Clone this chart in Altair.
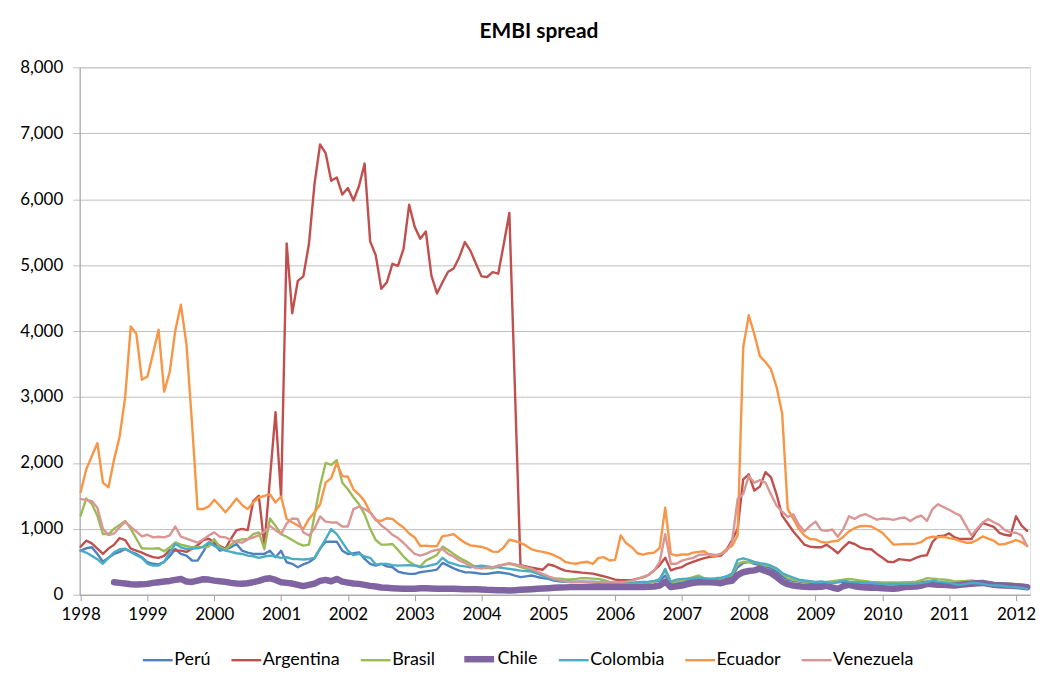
import altair as alt
import pandas as pd

countries = ["Perú", "Argentina", "Brasil", "Chile", "Colombia", "Ecuador", "Venezuela"]
colors = ["#4F81BD", "#C0504D", "#9BBB59", "#8064A2", "#4BACC6", "#F79646", "#DA9694"]
widths = [2.4, 2.4, 2.4, 6.5, 2.4, 2.4, 2.4]
start_year = 1998
year_ticks = list(range(1998, 2013))
value_ticks = list(range(0, 8001, 1000))

# monthly values, Jan 1998 .. Mar 2012 (one row per year)
peru = [
    669, 705, 720, 620, 500, 560, 619, 650, 694, 650, 619, 570,
    493, 470, 460, 500, 584, 694, 619, 594, 520, 518, 650, 795,
    770, 669, 690, 720, 770, 669, 640, 619, 619, 620, 669, 569,
    669, 493, 470, 418, 460, 493, 553, 700, 805, 805, 805, 669,
    619, 630, 644, 543, 470, 442, 468, 430, 418, 352, 330, 317,
    317, 342, 355, 367, 382, 483, 442, 400, 367, 342, 340, 330,
    317, 317, 330, 342, 330, 317, 290, 267, 280, 292, 270, 252,
    240, 216, 205, 195, 191, 191, 191, 190, 185, 180, 178, 176,
    176, 176, 176, 176, 176, 180, 190, 200, 216, 292, 176, 185,
    191, 210, 230, 252, 240, 216, 220, 235, 252, 280, 418, 480,
    500, 470, 450, 430, 400, 350, 280, 230, 210, 200, 190, 180,
    175, 170, 165, 180, 195, 190, 180, 170, 160, 155, 155, 160,
    165, 165, 160, 160, 165, 170, 175, 190, 200, 185, 170, 165,
    160, 155, 165, 170, 175, 180, 170, 160, 150, 145, 140, 135,
    130, 125, 120,
]
argentina = [
    730, 820, 780, 700, 620, 700, 760, 860, 830, 700, 670, 640,
    600, 570, 560, 590, 680, 670, 670, 650, 700, 750, 830, 850,
    800, 740, 700, 850, 980, 1000, 980, 1420, 1500, 750, 1760, 2770,
    1480, 5330, 4270, 4760, 4830, 5320, 6230, 6830, 6700, 6280, 6330, 6070,
    6170, 5980, 6200, 6540, 5360, 5150, 4640, 4740, 5020, 4990, 5250, 5915,
    5580, 5400, 5510, 4840, 4570, 4740, 4900, 4950, 5120, 5350, 5220, 5020,
    4830, 4820, 4895, 4870, 5320, 5790, None, 450, 430, 410, 395, 380,
    460, 440, 400, 367, 355, 345, 335, 328, 320, 300, 280, 255,
    230, 220, 220, 222, 245, 265, 300, 370, 450, 560, 370, 400,
    420, 470, 500, 530, 555, 575, 585, 593, 680, 830, 1000, 1750,
    1826, 1580, 1640, 1860, 1780, 1520, 1200, 1080, 960, 860, 760, 730,
    720, 720, 760, 700, 630, 720, 800, 770, 720, 695, 690, 620,
    560, 500, 495, 540, 530, 520, 560, 590, 600, 800, 890, 895,
    930, 870, 845, 845, 845, 980, 1090, 1060, 1030, 940, 910, 895,
    1190, 1050, 970,
]
brasil = [
    1200, 1460, 1380, 1200, 920, 920, 1000, 1060, 1120, 1000, 850, 705,
    700, 700, 705, 660, 720, 795, 760, 740, 720, 720, 720, 730,
    845, 720, 690, 760, 820, 840, 845, 920, 946, 694, 1157, 1045,
    920, 880, 830, 780, 745, 760, 1200, 1650, 2000, 1970, 2040, 1700,
    1600, 1480, 1373, 1220, 1000, 830, 760, 760, 770, 680, 580, 500,
    450, 430, 520, 560, 604, 730, 680, 620, 560, 518, 470, 418,
    405, 405, 403, 440, 453, 468, 450, 420, 395, 367, 330, 292,
    270, 252, 245, 235, 231, 240, 252, 250, 245, 241, 220, 195,
    190, 185, 176, 176, 176, 178, 180, 200, 241, 367, 180, 200,
    216, 240, 267, 292, 250, 216, 230, 241, 280, 300, 468, 500,
    495, 490, 470, 445, 430, 392, 320, 252, 225, 210, 201, 195,
    191, 190, 195, 205, 216, 230, 241, 230, 216, 205, 195, 191,
    188, 186, 186, 188, 190, 191, 200, 220, 252, 245, 235, 231,
    220, 201, 205, 210, 216, 205, 195, 186, 180, 176, 175, 170,
    160, 140, 120,
]
chile = [
    None, None, None, None, None, None, 191, 180, 170, 160, 155, 158,
    165, 180, 190, 200, 210, 225, 240, 200, 195, 215, 235, 230,
    215, 205, 195, 180, 170, 166, 175, 191, 210, 240, 251, 225,
    191, 180, 170, 150, 131, 150, 170, 210, 226, 205, 240, 200,
    185, 170, 165, 150, 135, 125, 110, 105, 100, 95, 90, 90,
    92, 100, 100, 95, 90, 90, 90, 90, 88, 85, 85, 85,
    80, 75, 72, 70, 68, 65, 70, 75, 80, 85, 90, 95,
    100, 105, 110, 112, 116, 116, 116, 116, 116, 116, 116, 116,
    116, 116, 116, 116, 116, 118, 120, 125, 140, 200, 116, 130,
    140, 160, 180, 191, 191, 191, 185, 176, 200, 211, 300, 342,
    360, 370, 395, 360, 330, 270, 200, 160, 140, 130, 120, 116,
    116, 120, 135, 110, 90, 130, 150, 130, 116, 110, 105, 105,
    100, 95, 90, 100, 116, 120, 125, 140, 166, 160, 150, 150,
    145, 140, 150, 160, 166, 175, 180, 165, 150, 145, 140, 135,
    131, 125, 115,
]
colombia = [
    669, 640, 590, 540, 470, 560, 644, 690, 700, 650, 600, 560,
    470, 443, 443, 500, 644, 770, 720, 694, 700, 705, 730, 795,
    740, 700, 669, 650, 630, 619, 594, 584, 560, 580, 594, 580,
    560, 569, 543, 540, 535, 543, 560, 700, 845, 996, 920, 795,
    669, 600, 620, 580, 560, 460, 468, 468, 450, 442, 445, 448,
    442, 418, 430, 450, 470, 560, 493, 470, 442, 430, 418, 430,
    442, 430, 418, 418, 405, 392, 380, 367, 360, 352, 320, 292,
    260, 230, 216, 205, 201, 200, 201, 200, 198, 196, 195, 192,
    190, 188, 185, 185, 190, 195, 200, 210, 230, 392, 200, 230,
    241, 245, 250, 260, 250, 245, 250, 260, 280, 320, 530, 553,
    530, 500, 480, 468, 440, 400, 330, 290, 260, 230, 216, 205,
    195, 201, 190, 176, 190, 216, 200, 191, 190, 188, 180, 170,
    166, 166, 168, 166, 166, 168, 170, 180, 191, 216, 200, 191,
    185, 160, 150, 165, 180, 175, 166, 150, 140, 140, 130, 118,
    116, 105, 90,
]
ecuador = [
    1560, 1900, 2100, 2300, 1700, 1630, 2050, 2400, 3000, 4070, 3960, 3260,
    3310, 3660, 4020, 3080, 3380, 4010, 4400, 3800, 2600, 1300, 1300, 1340,
    1440, 1350, 1250, 1350, 1460, 1360, 1300, 1400, 1475, 1500, 1525, 1400,
    1490, 1150, 1100, 1050, 1000, 1150, 1250, 1370, 1700, 1770, 2000, 1800,
    1790, 1600, 1520, 1420, 1250, 1130, 1120, 1160, 1150, 1080, 1020, 930,
    870, 740, 745, 735, 740, 890, 900, 920, 850, 790, 750, 740,
    725, 700, 655, 650, 720, 835, 815, 790, 745, 690, 665, 650,
    630, 600, 560, 500, 480, 470, 490, 500, 468, 560, 570, 520,
    530, 900, 780, 720, 630, 610, 630, 640, 710, 1320, 620, 595,
    610, 610, 640, 650, 660, 600, 580, 620, 690, 740, 900, 3750,
    4240, 3950, 3620, 3530, 3420, 3150, 2750, 1300, 1150, 1000, 900, 845,
    840, 800, 790, 810, 820, 880, 960, 1010, 1040, 1045, 1035, 990,
    940, 850, 760, 765, 770, 770, 775, 800, 860, 880, 875, 880,
    860, 845, 815, 790, 790, 830, 885, 850, 820, 760, 770, 800,
    830, 800, 740,
]
venezuela = [
    1450, 1440, 1420, 1320, 1000, 905, 930, 1020, 1110, 1030, 960, 885,
    910, 870, 880, 870, 900, 1036, 880, 850, 820, 790, 840, 900,
    946, 880, 870, 830, 800, 790, 840, 870, 900, 960, 1045, 980,
    920, 1080, 1157, 1150, 946, 900, 1000, 1188, 1110, 1097, 1097, 1036,
    1036, 1300, 1338, 1300, 1250, 1147, 1050, 990, 910, 860, 785, 700,
    620, 595, 620, 660, 680, 694, 620, 580, 520, 483, 440, 405,
    400, 415, 418, 440, 460, 478, 460, 442, 420, 392, 350, 317,
    280, 245, 225, 205, 191, 195, 200, 196, 195, 192, 190, 191,
    191, 195, 200, 215, 241, 270, 300, 367, 500, 920, 470, 470,
    518, 540, 560, 604, 610, 618, 600, 620, 660, 800, 1450, 1530,
    1800, 1700, 1740, 1700, 1520, 1350, 1260, 1180, 1220, 1060, 960, 1045,
    1110, 980, 970, 990, 880, 1000, 1190, 1150, 1200, 1222, 1180, 1140,
    1157, 1150, 1136, 1160, 1172, 1120, 1172, 1200, 1120, 1300, 1373, 1330,
    1290, 1240, 1200, 1050, 900, 1000, 1097, 1147, 1100, 1060, 980, 946,
    940, 900, 740,
]

series = [peru, argentina, brasil, chile, colombia, ecuador, venezuela]

rows = []
for country, values in zip(countries, series):
    for m, v in enumerate(values):
        if v is None:
            continue
        rows.append({"year": start_year + m / 12.0, "value": v, "country": country})
df = pd.DataFrame(rows)

FONT = "Lato"

legend = alt.Legend(
    title=None,
    orient="none",
    legendX=62,
    legendY=576,
    direction="horizontal",
    symbolType="stroke",
    symbolSize=900,
    labelFont=FONT,
    labelFontSize=18,
    labelColor="#000000",
    labelOffset=0,
    columnPadding=15,
)

chart = (
    alt.Chart(df)
    .mark_line(strokeJoin="round", strokeCap="round")
    .encode(
        x=alt.X(
            "year:Q",
            scale=alt.Scale(domain=[1997.985, 2012.21], nice=False, zero=False),
            axis=alt.Axis(
                values=year_ticks,
                format="d",
                title=None,
                grid=False,
                domainColor="#9f9f9f",
                tickColor="#9f9f9f",
                tickSize=6,
                labelFont=FONT,
                labelFontSize=17,
                labelColor="#000000",
                labelPadding=6,
                labelFlush=False,
            ),
        ),
        y=alt.Y(
            "value:Q",
            scale=alt.Scale(domain=[0, 8000], nice=False),
            axis=alt.Axis(
                values=value_ticks,
                format=",d",
                title=None,
                grid=True,
                gridColor="#bfbfbf",
                domainColor="#9f9f9f",
                tickColor="#bfbfbf",
                tickSize=7,
                labelFont=FONT,
                labelFontSize=17,
                labelColor="#000000",
                labelPadding=10,
            ),
        ),
        color=alt.Color(
            "country:N",
            scale=alt.Scale(domain=countries, range=colors),
            legend=legend,
        ),
        strokeWidth=alt.StrokeWidth(
            "country:N",
            scale=alt.Scale(type="ordinal", domain=countries, range=widths),
            legend=legend,
        ),
    )
    .properties(
        width=955,
        height=530,
        title=alt.TitleParams(
            "EMBI spread",
            font=FONT,
            fontSize=21,
            fontWeight="bold",
            color="#000000",
            anchor="middle",
            dx=-16,
            offset=16,
        ),
        autosize=alt.AutoSizeParams(type="none"),
        padding={"left": 72, "top": 58, "right": 8, "bottom": 77},
    )
    .configure_view(strokeWidth=0)
    .configure(background="white")
)

chart.save("out.html", embed_options={"renderer": "svg", "actions": False})
